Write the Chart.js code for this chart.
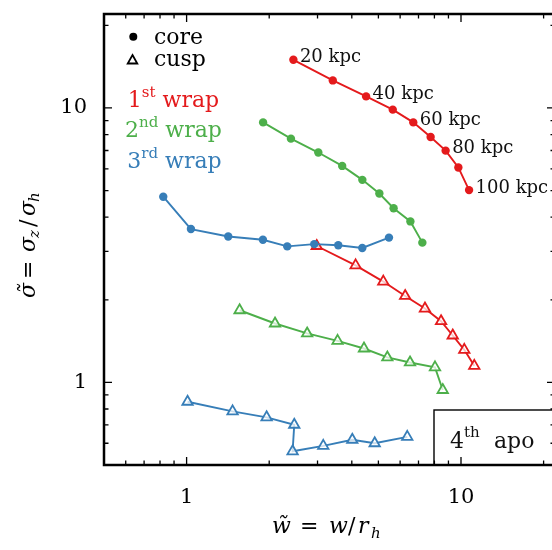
<!DOCTYPE html>
<html>
<head>
<meta charset="utf-8">
<script src="https://cdn.jsdelivr.net/npm/chart.js@4/dist/chart.umd.min.js"></script>
<style>
  html, body { margin: 0; padding: 0; background: #fff; }
  canvas { display: block; }
</style>
</head>
<body>
<canvas id="myChart" width="552" height="550"></canvas>
<script>
// axis ticks
const majorTicks = [1, 10];
const minorTicks = [0.6, 0.7, 0.8, 0.9, 2, 3, 4, 5, 6, 7, 8, 9, 20];
const radiusLabels = ['20 kpc', '', '40 kpc', '', '60 kpc', '', '80 kpc', '', '100 kpc'];

// 1st wrap
const wrap1CoreW = [2.45, 3.41, 4.51, 5.64, 6.70, 7.75, 8.79, 9.78, 10.7];
const wrap1CoreS = [14.98, 12.6, 11.02, 9.86, 8.86, 7.84, 6.99, 6.07, 5.02];
const wrap1CuspW = [2.98, 4.13, 5.21, 6.26, 7.39, 8.46, 9.33, 10.28, 11.18];
const wrap1CuspS = [3.14, 2.67, 2.33, 2.065, 1.858, 1.671, 1.482, 1.314, 1.149];
// 2nd wrap
const wrap2CoreW = [1.90, 2.40, 3.02, 3.69, 4.37, 5.04, 5.68, 6.54, 7.23];
const wrap2CoreS = [8.86, 7.73, 6.88, 6.15, 5.47, 4.88, 4.31, 3.86, 3.23];
const wrap2CuspW = [1.56, 2.10, 2.75, 3.55, 4.43, 5.39, 6.52, 8.04, 8.58];
const wrap2CuspS = [1.832, 1.639, 1.508, 1.417, 1.329, 1.233, 1.182, 1.134, 0.938];
// 3rd wrap
const wrap3CoreW = [0.822, 1.037, 1.418, 1.897, 2.327, 2.919, 3.57, 4.368, 5.464];
const wrap3CoreS = [4.75, 3.62, 3.40, 3.31, 3.13, 3.19, 3.16, 3.09, 3.37];
const wrap3CuspW = [1.008, 1.471, 1.957, 2.468, 2.434, 3.148, 4.016, 4.847, 6.37];
const wrap3CuspS = [0.850, 0.784, 0.746, 0.701, 0.561, 0.587, 0.618, 0.600, 0.633];

const RED = '#e41a1c', GREEN = '#4daf4a', BLUE = '#377eb8';
const SERIF = '"DejaVu Serif", serif';
const FRAME_OVERHANG = 3; // right frame edge sits just past the canvas

function pts(xs, ys) {
  return xs.map((x, i) => ({ x: x, y: ys[i] }));
}
function coreSet(label, xs, ys, color) {
  return {
    label: label, data: pts(xs, ys), showLine: true,
    borderColor: color, backgroundColor: color, borderWidth: 1.9,
    pointStyle: 'circle', pointRadius: 4.2, pointBorderWidth: 0,
    pointBackgroundColor: color
  };
}
function cuspSet(label, xs, ys, color) {
  return {
    label: label, data: pts(xs, ys), showLine: true,
    borderColor: color, backgroundColor: color, borderWidth: 1.9,
    pointStyle: 'triangle', pointRadius: 6, pointBorderWidth: 1.8,
    pointBorderColor: color, pointBackgroundColor: 'rgba(255,255,255,0.75)'
  };
}

// draw a run of text pieces, each {t, x, font, dy}
function drawPieces(ctx, pieces, y, color) {
  ctx.fillStyle = color;
  pieces.forEach(p => {
    ctx.font = p.font;
    ctx.fillText(p.t, p.x, y + (p.dy || 0));
  });
}
// centred "Nth word" style text with superscript
function drawOrdinal(ctx, num, sup, word, cx, y, color, size) {
  const big = size + 'px ' + SERIF, small = Math.round(size * 0.7) + 'px ' + SERIF;
  ctx.font = big; const w1 = ctx.measureText(num).width;
  const w3 = ctx.measureText(word).width, sp = ctx.measureText(' ').width;
  ctx.font = small; const w2 = ctx.measureText(sup).width;
  let x = cx - (w1 + w2 + sp + w3) / 2;
  ctx.fillStyle = color; ctx.textAlign = 'left'; ctx.textBaseline = 'alphabetic';
  ctx.font = big; ctx.fillText(num, x, y); x += w1;
  ctx.font = small; ctx.fillText(sup, x, y - 10); x += w2 + sp;
  ctx.font = big; ctx.fillText(word, x, y);
}

const decorations = {
  id: 'decorations',
  afterDatasetsDraw(chart) {
    const ctx = chart.ctx, xs = chart.scales.x, ys = chart.scales.y, a = chart.chartArea;
    ctx.save();
    // radius labels along the 1st-wrap core curve
    ctx.font = '18px ' + SERIF; ctx.fillStyle = '#111';
    ctx.textAlign = 'left'; ctx.textBaseline = 'alphabetic';
    radiusLabels.forEach((t, i) => {
      if (!t) return;
      ctx.fillText(t, xs.getPixelForValue(wrap1CoreW[i]) + 6.5, ys.getPixelForValue(wrap1CoreS[i]) + 2.5);
    });

    // legend: markers
    ctx.fillStyle = '#000';
    ctx.beginPath(); ctx.arc(133.3, 36.7, 4, 0, Math.PI * 2); ctx.fill();
    ctx.beginPath();
    ctx.moveTo(132.5, 55); ctx.lineTo(137.3, 63.5); ctx.lineTo(127.7, 63.5); ctx.closePath();
    ctx.fillStyle = '#fff'; ctx.fill();
    ctx.strokeStyle = '#000'; ctx.lineWidth = 1.8; ctx.stroke();
    ctx.fillStyle = '#000'; ctx.font = '22px ' + SERIF;
    ctx.fillText('core', 154, 44);
    ctx.fillText('cusp', 154, 66);

    drawOrdinal(ctx, '1', 'st', 'wrap', 173.5, 107, RED, 22);
    drawOrdinal(ctx, '2', 'nd', 'wrap', 173.5, 137, GREEN, 22);
    drawOrdinal(ctx, '3', 'rd', 'wrap', 174.5, 168, BLUE, 22);

    // "4th apo" box
    const right = a.right + FRAME_OVERHANG;
    ctx.fillStyle = '#fff';
    ctx.fillRect(434, 410, right - 434 + 5, a.bottom - 410);
    ctx.strokeStyle = '#000'; ctx.lineWidth = 1.4;
    ctx.strokeRect(434, 410, right - 434 + 5, a.bottom - 410);
    ctx.fillStyle = '#111';
    ctx.font = '22px ' + SERIF; ctx.fillText('4', 450, 448);
    ctx.font = '15px ' + SERIF; ctx.fillText('th', 464, 437);
    ctx.font = '22px ' + SERIF; ctx.fillText('apo', 494, 448);
    ctx.restore();
  },
  afterDraw(chart) {
    const ctx = chart.ctx, xs = chart.scales.x, ys = chart.scales.y, a = chart.chartArea;
    const right = a.right + FRAME_OVERHANG;
    ctx.save();
    // inward ticks on all four sides
    ctx.strokeStyle = '#000'; ctx.lineWidth = 1.3;
    const tick = (vals, len) => {
      vals.forEach(v => {
        const px = xs.getPixelForValue(v), py = ys.getPixelForValue(v);
        ctx.beginPath();
        ctx.moveTo(px, a.bottom); ctx.lineTo(px, a.bottom - len);
        ctx.moveTo(px, a.top); ctx.lineTo(px, a.top + len);
        ctx.moveTo(a.left, py); ctx.lineTo(a.left + len, py);
        ctx.moveTo(right, py); ctx.lineTo(right - len, py);
        ctx.stroke();
      });
    };
    tick(majorTicks, 8);
    tick(minorTicks, 4.5);
    // frame
    ctx.lineWidth = 2.5;
    ctx.strokeRect(a.left, a.top, right - a.left, a.bottom - a.top);

    // axis titles
    ctx.textAlign = 'left'; ctx.textBaseline = 'alphabetic';
    const it = 'italic 22px ' + SERIF, up = '22px ' + SERIF, sub = 'italic 15px ' + SERIF;
    drawPieces(ctx, [
      { t: 'w\u0303', x: 272, font: it },
      { t: '=', x: 300, font: up },
      { t: 'w', x: 329, font: it },
      { t: '/', x: 348, font: up },
      { t: 'r', x: 358, font: it },
      { t: 'h', x: 371, font: sub, dy: 5 }
    ], 533, '#000');

    ctx.translate(35, 0);
    ctx.rotate(-Math.PI / 2);
    drawPieces(ctx, [
      { t: '\u03c3\u0303', x: -298, font: it },
      { t: '=', x: -279, font: up },
      { t: '\u03c3', x: -252, font: it },
      { t: 'z', x: -238, font: sub, dy: 4 },
      { t: '/', x: -227, font: up },
      { t: '\u03c3', x: -216, font: it },
      { t: 'h', x: -202, font: sub, dy: 4 }
    ], 0, '#000');
    ctx.restore();
  }
};

new Chart(document.getElementById('myChart').getContext('2d'), {
  type: 'scatter',
  data: {
    datasets: [
      coreSet('1st wrap core', wrap1CoreW, wrap1CoreS, RED),
      coreSet('2nd wrap core', wrap2CoreW, wrap2CoreS, GREEN),
      coreSet('3rd wrap core', wrap3CoreW, wrap3CoreS, BLUE),
      cuspSet('1st wrap cusp', wrap1CuspW, wrap1CuspS, RED),
      cuspSet('2nd wrap cusp', wrap2CuspW, wrap2CuspS, GREEN),
      cuspSet('3rd wrap cusp', wrap3CuspW, wrap3CuspS, BLUE)
    ]
  },
  options: {
    responsive: false,
    devicePixelRatio: 1,
    animation: false,
    layout: { autoPadding: false, padding: { left: 0, top: 14, right: 0, bottom: 0 } },
    plugins: { legend: { display: false }, tooltip: { enabled: false } },
    scales: {
      x: {
        type: 'logarithmic', position: 'bottom', min: 0.5, max: 21.46,
        grid: { display: false, drawTicks: false }, border: { display: false },
        afterBuildTicks: s => { s.ticks = majorTicks.map(v => ({ value: v })); },
        afterFit: s => { s.height = 85; s.paddingLeft = 0; s.paddingRight = 0; },
        ticks: {
          autoSkip: false, maxRotation: 0, padding: 20, color: '#000',
          font: { family: SERIF, size: 21 },
          callback: v => String(v)
        }
      },
      y: {
        type: 'logarithmic', position: 'left', min: 0.5, max: 22,
        grid: { display: false, drawTicks: false }, border: { display: false },
        afterBuildTicks: s => { s.ticks = majorTicks.map(v => ({ value: v })); },
        afterFit: s => { s.width = 104; s.paddingTop = 0; s.paddingBottom = 0; },
        ticks: {
          autoSkip: false, padding: 17, color: '#000',
          font: { family: SERIF, size: 21 },
          callback: v => String(v)
        }
      }
    }
  },
  plugins: [decorations]
});
</script>
</body>
</html>
